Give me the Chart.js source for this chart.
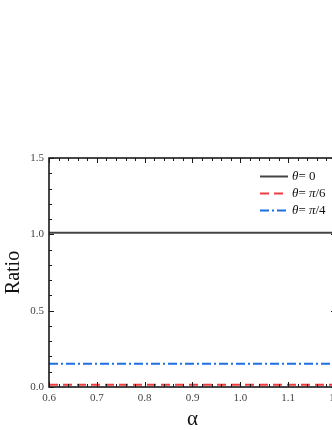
<!DOCTYPE html>
<html>
<head>
<meta charset="utf-8">
<script src="https://cdn.jsdelivr.net/npm/chart.js@4.4.1/dist/chart.umd.min.js"></script>
<style>
html,body{margin:0;padding:0;background:#fff;overflow:hidden;width:332px;height:430px;}
canvas{display:block;}
</style>
</head>
<body>
<canvas id="c" width="350" height="430"></canvas>
<script>
// Data
const alphas = [0.6, 0.7, 0.8, 0.9, 1.0, 1.1, 1.2];
const ratioTheta0 = [1.01, 1.01, 1.01, 1.01, 1.01, 1.01, 1.01];
const ratioThetaPi6 = [0.015, 0.015, 0.015, 0.015, 0.015, 0.015, 0.015];
const ratioThetaPi4 = [0.153, 0.153, 0.153, 0.153, 0.153, 0.153, 0.153];
const seriesNames = [["θ", "= 0"], ["θ", "= ", "π", "/6"], ["θ", "= ", "π", "/4"]];
const xTickValues = [0.6, 0.7, 0.8, 0.9, 1.0, 1.1, 1.2];
const yTickValues = [0.0, 0.5, 1.0, 1.5];

const pts = arr => alphas.map((a, i) => ({x: a, y: arr[i]}));

const serif = "'Liberation Serif', 'DejaVu Serif', serif";

const frameTicks = {
  id: 'frameTicks',
  afterDraw(chart) {
    const {ctx, chartArea: ca, scales: {x, y}} = chart;
    ctx.save();
    ctx.strokeStyle = '#1a1a1a';
    ctx.lineWidth = 1.6;
    ctx.strokeRect(ca.left, ca.top, ca.right - ca.left, ca.bottom - ca.top);
    ctx.lineWidth = 1;
    ctx.beginPath();
    for (let k = 0; k <= 30; k++) {
      const v = 0.6 + k * 0.02;
      const px = Math.round(x.getPixelForValue(v)) + 0.5;
      const len = (k % 5 === 0) ? 5 : 3;
      ctx.moveTo(px, ca.bottom); ctx.lineTo(px, ca.bottom - len);
      ctx.moveTo(px, ca.top); ctx.lineTo(px, ca.top + len);
    }
    for (let k = 0; k <= 15; k++) {
      const v = k * 0.1;
      const py = Math.round(y.getPixelForValue(v)) + 0.5;
      const len = (k % 5 === 0) ? 5 : 3;
      ctx.moveTo(ca.left, py); ctx.lineTo(ca.left + len, py);
      ctx.moveTo(ca.right, py); ctx.lineTo(ca.right - len, py);
    }
    ctx.stroke();

    // legend
    const rows = [176, 193, 210];
    const x0 = 260, x1 = 288, tx = 292;
    chart.data.datasets.forEach((ds, i) => {
      const yy = rows[i] + 0.5;
      ctx.strokeStyle = ds.borderColor;
      ctx.lineWidth = ds.borderWidth;
      ctx.setLineDash(ds.borderDash || []);
      ctx.beginPath();
      ctx.moveTo(x0, yy); ctx.lineTo(x1, yy);
      ctx.stroke();
      ctx.setLineDash([]);
      let cx = tx;
      ctx.fillStyle = '#111';
      ctx.textBaseline = 'middle';
      seriesNames[i].forEach(part => {
        const italic = (part === 'θ' || part === 'π');
        ctx.font = (italic ? 'italic ' : '') + '13px ' + serif;
        ctx.fillText(part, cx, yy);
        cx += ctx.measureText(part).width;
      });
    });
    ctx.restore();
  }
};

new Chart(document.getElementById('c'), {
  type: 'line',
  data: {
    datasets: [
      {label: 'θ = 0', data: pts(ratioTheta0), borderColor: '#444444', borderWidth: 2, pointRadius: 0, fill: false},
      {label: 'θ = π/6', data: pts(ratioThetaPi6), borderColor: '#f03c3c', borderWidth: 2, borderDash: [9, 5], pointRadius: 0, fill: false},
      {label: 'θ = π/4', data: pts(ratioThetaPi4), borderColor: '#1f6fe0', borderWidth: 2, borderDash: [9, 3, 2, 3], pointRadius: 0, fill: false}
    ]
  },
  options: {
    responsive: false,
    animation: false,
    events: [],
    layout: {padding: {top: 158, right: 14, left: 0, bottom: 0}},
    plugins: {legend: {display: false}, tooltip: {enabled: false}},
    scales: {
      x: {
        type: 'linear', min: 0.6, max: 1.2,
        afterFit: s => { s.height = 43; },
        afterBuildTicks: s => { s.ticks = xTickValues.map(v => ({value: v})); },
        grid: {display: false, drawTicks: false},
        border: {display: false},
        ticks: {padding: 5, color: '#444', font: {family: serif, size: 11}, callback: v => v.toFixed(1), maxRotation: 0, autoSkip: false},
        title: {display: true, text: 'α', color: '#111', font: {family: serif, size: 21, lineHeight: 1}, padding: {top: 0, bottom: 0}}
      },
      y: {
        type: 'linear', min: 0, max: 1.5,
        afterFit: s => { s.width = 49; },
        afterBuildTicks: s => { s.ticks = yTickValues.map(v => ({value: v})); },
        grid: {display: false, drawTicks: false},
        border: {display: false},
        ticks: {padding: 5, color: '#444', font: {family: serif, size: 11}, callback: v => v.toFixed(1)},
        title: {display: true, text: 'Ratio', color: '#111', font: {family: serif, size: 20}, padding: {top: 2, bottom: 0}}
      }
    }
  },
  plugins: [frameTicks]
});
</script>
</body>
</html>
